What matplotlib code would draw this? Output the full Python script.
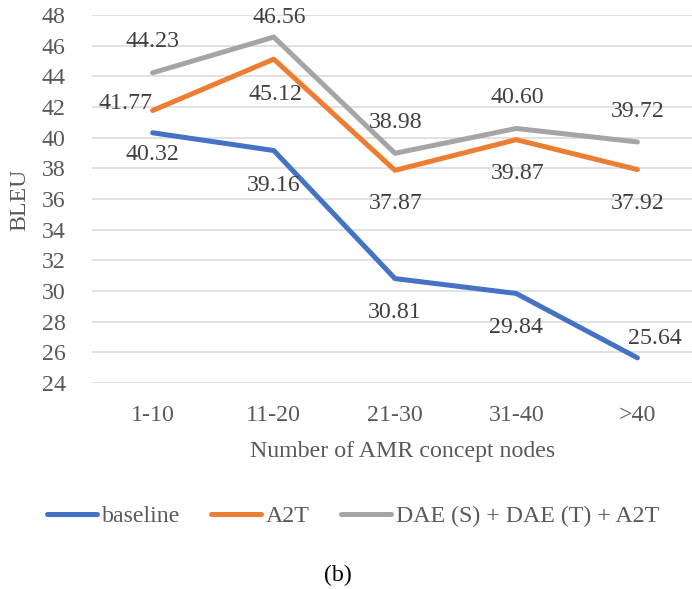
## line chart: BLEU by number of AMR concept nodes
import numpy as np
from matplotlib import pyplot as plt

plt.rcParams['font.family'] = ['Liberation Serif', 'DejaVu Serif']

## data
groups = ["1-10", "11-20", "21-30", "31-40", ">40"]
baseline = [40.32, 39.16, 30.81, 29.84, 25.64]
a2t = [41.77, 45.12, 37.87, 39.87, 37.92]
dae = [44.23, 46.56, 38.98, 40.60, 39.72]
names = ["baseline", "A2T", "DAE (S) + DAE (T) + A2T"]
yticks = list(range(24, 49, 2))

colors = ["#4472C4", "#ED7D31", "#A5A5A5"]
fs = 17.2

## label offsets in pixels (dx, dy), picked by eye to match the original
offsets = [
    [(0, -22), (0, -35), (0, -34), (0, -34), (17, 19)],
    [(-27, 7), (2, -35), (1, -33), (1, -34), (0, -34)],
    [(0, 31), (5, 20), (1, 31), (1, 31), (0, 30)],
]

fig = plt.figure(figsize=(6.92, 5.89), dpi=100)
ax = fig.add_axes([92/692, 1-383/589, 606/692, 368/589])

x = np.arange(len(groups))
series = [baseline, a2t, dae]
for vals, c, name in zip(series, colors, names):
    ax.plot(x, vals, color=c, lw=3.6, solid_capstyle='round',
            solid_joinstyle='round', label=name, zorder=3)

px = 0.72  # points per pixel at 100 dpi
for vals, offs in zip(series, offsets):
    for xi, v, (dx, dy) in zip(x, vals, offs):
        ax.annotate(f"{v:.2f}", (xi, v), xytext=(dx*px, dy*px),
                    textcoords='offset points', ha='center', va='center',
                    fontsize=fs, color='#404040', zorder=4,
                    annotation_clip=False)

ax.set_xlim(-0.5, len(groups)-0.5)
ax.set_ylim(24, 48)
ax.set_yticks(yticks)
ax.set_xticks(x)
ax.set_xticklabels(groups)
ax.grid(axis='y', color='#D9D9D9', lw=1.1, zorder=0)
ax.set_axisbelow(True)
for s in ax.spines.values():
    s.set_visible(False)
ax.tick_params(axis='both', length=0, labelsize=fs, labelcolor='#595959')
ax.tick_params(axis='y', pad=19)
ax.tick_params(axis='x', pad=16)

fig.text(20/692, 1-200/589, "BLEU", rotation=90, ha='center', va='center',
         fontsize=fs, color='#595959')
fig.text(403/692, 1-451/589, "Number of AMR concept nodes", ha='center',
         va='center', fontsize=fs, color='#595959')

fig.legend(loc='center', bbox_to_anchor=(353/692, 1-516/589), ncol=3,
           frameon=False, fontsize=fs, handlelength=2.1,
           handletextpad=0.2, columnspacing=1.3, labelcolor='#595959')

fig.text(338/692, 1-575/589, "(b)", ha='center', va='center', fontsize=fs,
         color='black')

fig.savefig("out.png", dpi=100)
